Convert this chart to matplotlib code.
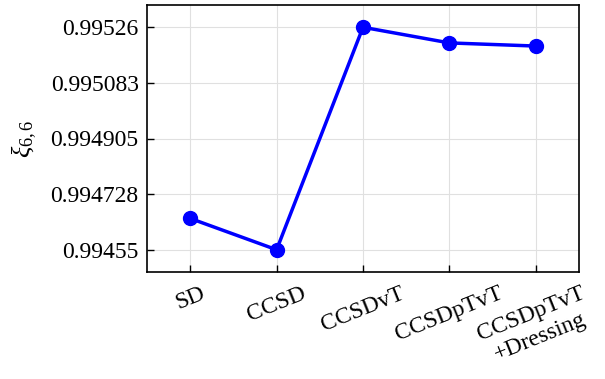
import matplotlib
matplotlib.use("Agg")
import matplotlib.pyplot as plt
import numpy as np

categories = ["SD", "CCSD", "CCSDvT", "CCSDpTvT", "CCSDpTvT\n+Dressing"]
values = [0.99465, 0.99455, 0.99526, 0.99521, 0.99520]
ytick_vals = [0.99455, 0.9947275, 0.994905, 0.9950825, 0.99526]
ytick_labels = ["0.99455", "0.994728", "0.994905", "0.995083", "0.99526"]

plt.rcParams['font.family'] = ['Liberation Serif', 'DejaVu Serif']
plt.rcParams['mathtext.fontset'] = 'custom'
plt.rcParams['mathtext.rm'] = 'Liberation Serif'
plt.rcParams['mathtext.it'] = 'Liberation Serif:italic'
plt.rcParams['mathtext.bf'] = 'Liberation Serif:bold'

fig = plt.figure(figsize=(6.05, 3.79), dpi=100)
ax = fig.add_axes([147/605, 1 - 272/379, (579-147)/605, (272-5)/379])
x = np.arange(len(categories))
ax.plot(x, values, color='#0000ff', lw=2.5, marker='o', ms=10)
ax.set_xlim(-0.5, len(categories) - 0.5)
lo, hi = min(values), max(values)
pad = (hi - lo) * 0.1
ax.set_ylim(lo - pad, hi + pad)
ax.set_yticks(ytick_vals)
ax.set_yticklabels(ytick_labels, fontsize=17)
ax.set_xticks(x)
ax.set_xticklabels(categories, fontsize=17, rotation=22, ha='center', linespacing=1.25)
ax.tick_params(direction='in', length=5, width=1)
ax.tick_params(axis='x', pad=8)
ax.tick_params(axis='y', pad=6)
ax.grid(True, color='#e0e0e0', lw=0.8)
ax.set_axisbelow(True)
for s in ax.spines.values():
    s.set_linewidth(1.2)
ax.set_ylabel(r'$\xi_{6,6}$', fontsize=19, labelpad=8)
fig.savefig("out.png", dpi=100)
